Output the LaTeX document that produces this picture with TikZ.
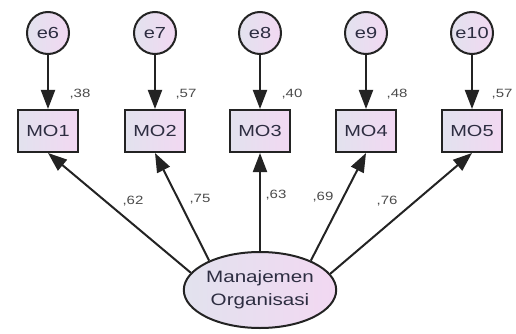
\documentclass[tikz,border=0pt]{standalone}
\usepackage{fontspec}
\usepackage{graphicx}
\setmainfont{Liberation Sans}
\usetikzlibrary{arrows.meta,shapes.geometric}
\definecolor{lnc}{RGB}{35,35,35}
\definecolor{fillL}{RGB}{226,226,238}
\definecolor{fillR}{RGB}{242,216,242}
\definecolor{txtc}{RGB}{45,45,65}
\definecolor{labc}{RGB}{75,75,75}
\newcommand{\stretchtxt}[1]{\scalebox{1.25}[1]{#1}}
\begin{document}
\begin{tikzpicture}[x=1pt,y=-1pt,
  var/.style={draw=lnc, line width=2pt, left color=fillL, right color=fillR, text=txtc, font=\fontsize{16}{16}\selectfont},
  obs/.style={var, rectangle, minimum width=60pt, minimum height=42pt, inner sep=0pt},
  err/.style={var, circle, minimum size=42pt, inner sep=0pt},
  lat/.style={var, ellipse, minimum width=150pt, minimum height=76pt, inner sep=0pt, align=center, font=\fontsize{16.5}{23}\selectfont},
  arr/.style={draw=lnc, line width=2pt, -{Triangle[length=19pt,width=14pt]}},
  coef/.style={text=labc, inner sep=0pt, font=\fontsize{12}{12}\selectfont}]
\useasboundingbox (0,0) rectangle (516,334);
% error terms
\node[err] (e6)  at (48,33)  {\stretchtxt{e6}};
\node[err] (e7)  at (155,33) {\stretchtxt{e7}};
\node[err] (e8)  at (260,33) {\stretchtxt{e8}};
\node[err] (e9)  at (366,33) {\stretchtxt{e9}};
\node[err] (e10) at (472,33) {\stretchtxt{e10}};
% observed variables
\node[obs] (mo1) at (48,131)  {\stretchtxt{MO1}};
\node[obs] (mo2) at (155,131) {\stretchtxt{MO2}};
\node[obs] (mo3) at (260,131) {\stretchtxt{MO3}};
\node[obs] (mo4) at (366,131) {\stretchtxt{MO4}};
\node[obs] (mo5) at (472,131) {\stretchtxt{MO5}};
% latent
\node[lat] (lat) at (260,290) {\stretchtxt{Manajemen}\\\stretchtxt{Organisasi}};
% error arrows
\draw[arr] (e6) -- (mo1);
\draw[arr] (e7) -- (mo2);
\draw[arr] (e8) -- (mo3);
\draw[arr] (e9) -- (mo4);
\draw[arr] (e10) -- (mo5);
% loadings
\draw[arr] (lat.166) -- (mo1.south);
\draw[arr] (lat.150) -- (mo2.south);
\draw[arr] (lat.90)  -- (mo3.south);
\draw[arr] (lat.30)  -- (mo4.south);
\draw[arr] (lat.13)  -- (mo5.south);
% R squared
\node[coef] (r1) at (80,94)  {\stretchtxt{,38}};
\node[coef] (r2) at (186,94) {\stretchtxt{,57}};
\node[coef] (r3) at (292,94) {\stretchtxt{,40}};
\node[coef] (r4) at (397,94) {\stretchtxt{,48}};
\node[coef] (r5) at (502,94) {\stretchtxt{,57}};
% loading labels
\node[coef] (l1) at (133,201) {\stretchtxt{,62}};
\node[coef] (l2) at (200,199) {\stretchtxt{,75}};
\node[coef] (l3) at (276,195) {\stretchtxt{,63}};
\node[coef] (l4) at (323,197) {\stretchtxt{,69}};
\node[coef] (l5) at (387,201) {\stretchtxt{,76}};
\end{tikzpicture}
\end{document}
